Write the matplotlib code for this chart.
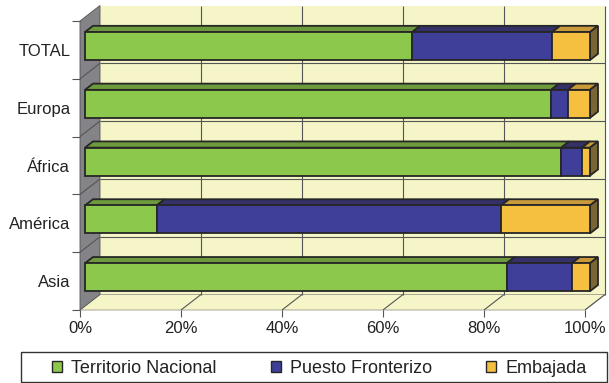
import matplotlib
matplotlib.use("Agg")
import matplotlib.pyplot as plt
from matplotlib.patches import Polygon, Patch, Rectangle

plt.rcParams["font.family"] = ["Liberation Sans", "DejaVu Sans"]

# data (percent of each row), bottom row first
categories = ["Asia", "América", "África", "Europa", "TOTAL"]
territorio = [83.5, 14.2, 94.3, 92.3, 64.8]
fronterizo = [12.9, 68.2, 4.1, 3.3, 27.7]
embajada = [3.6, 17.6, 1.6, 4.4, 7.5]
series_names = ["Territorio Nacional", "Puesto Fronterizo", "Embajada"]
xticks = [0, 20, 40, 60, 80, 100]

front_col = ["#8CC84B", "#3F3F99", "#F5BF3F"]
top_col = ["#6C9A3C", "#363068", "#C89A3A"]
side_col = "#7A6535"
wall_col = "#F5F5C8"
edge = "#262626"
txt = "#222222"

W, H = 609, 383
fig = plt.figure(figsize=(W / 100, H / 100), dpi=100)
ax = fig.add_axes([80 / W, 73 / H, 505 / W, 289 / H])
ax.set_xlim(0, 100)
ax.set_ylim(0, 5)

# depth offset of the back wall in data units
DX = 20 / 5.05
DY = 15.5 / 57.8


def p(x, y, d):
    return (x + d * DX, y + d * DY)


def poly(pts, fc, ec="none", lw=0.0, z=1):
    ax.add_patch(Polygon(pts, closed=True, facecolor=fc, edgecolor=ec,
                         linewidth=lw, zorder=z, clip_on=False))


def line(a, b, c="#555555", lw=0.8, z=2):
    ax.plot([a[0], b[0]], [a[1], b[1]], color=c, lw=lw, zorder=z,
            clip_on=False, solid_capstyle="butt")


ncat = len(categories)
# walls and floor
poly([p(0, 0, 1), p(100, 0, 1), p(100, ncat, 1), p(0, ncat, 1)], wall_col)
poly([p(0, 0, 0), p(100, 0, 0), p(100, 0, 1), p(0, 0, 1)], wall_col,
     ec="#9a9a8a", lw=0.6)
poly([p(0, 0, 0), p(0, ncat, 0), p(0, ncat, 1), p(0, 0, 1)], "#838388",
     ec="#555555", lw=0.6)

# gridlines
for x in xticks[1:]:
    line(p(x, 0, 1), p(x, ncat, 1))
    line(p(x, 0, 0), p(x, 0, 1))
for y in range(1, ncat):
    line(p(0, y, 1), p(100, y, 1))
    line(p(0, y, 0), p(0, y, 1))

# bars
d0, d1 = 0.25, 0.65
hh = 0.242
for i in range(ncat):
    vals = [territorio[i], fronterizo[i], embajada[i]]
    y0, y1 = i + 0.5 - hh, i + 0.5 + hh
    left = 0
    for k, v in enumerate(vals):
        right = left + v
        poly([p(left, y1, d0), p(right, y1, d0), p(right, y1, d1),
              p(left, y1, d1)], top_col[k], ec=edge, lw=1.3, z=3)
        poly([p(left, y0, d0), p(right, y0, d0), p(right, y1, d0),
              p(left, y1, d0)], front_col[k], ec=edge, lw=1.3, z=4)
        left = right
    poly([p(left, y0, d0), p(left, y0, d1), p(left, y1, d1),
          p(left, y1, d0)], side_col, ec=edge, lw=1.3, z=3)

# axes styling
for s in ax.spines.values():
    s.set_visible(False)
ax.patch.set_visible(False)
ax.set_xticks(xticks)
ax.set_xticklabels([f"{t}%" for t in xticks])
ax.tick_params(axis="x", direction="out", length=5, width=0.8,
               color="#555555", pad=3, labelsize=12, labelcolor=txt)
ax.set_yticks(range(ncat + 1))
ax.set_yticklabels([])
ax.set_yticks([i + 0.5 for i in range(ncat)], minor=True)
ax.set_yticklabels(categories, minor=True)
ax.tick_params(axis="y", which="major", direction="out", length=6,
               width=0.8, color="#555555")
ax.tick_params(axis="y", which="minor", length=0, pad=7, labelsize=12,
               labelcolor=txt)

# legend box drawn separately, entries spread inside it
fig.add_artist(Rectangle((21 / W, 1 / H), 586 / W, 30 / H,
                         transform=fig.transFigure, facecolor="white",
                         edgecolor="#333333", linewidth=1.0))
handles = [Patch(facecolor=c, edgecolor=edge, linewidth=1.0)
           for c in front_col]
leg = fig.legend(handles, series_names, ncol=3, mode="expand",
                 loc="lower left",
                 bbox_to_anchor=(47 / W, 1 / H, 545 / W, 30 / H),
                 fontsize=13, frameon=False,
                 handlelength=0.55, handleheight=0.55, handletextpad=0.5,
                 borderpad=0.3, borderaxespad=0, labelcolor=txt)

fig.savefig("out.png", dpi=100)
